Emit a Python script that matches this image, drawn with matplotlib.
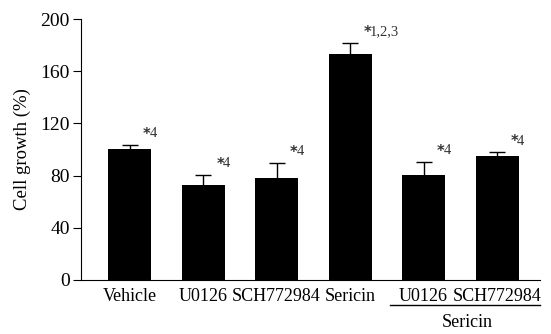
import numpy as np
import matplotlib.pyplot as plt
import matplotlib as mpl

mpl.rcParams.update({
    'font.family': ['Liberation Serif', 'DejaVu Serif'],
    'font.size': 13,
})

labels = ['Vehicle', 'U0126', 'SCH772984', 'Sericin', 'U0126', 'SCH772984']
growth = [100.3, 73.0, 78.2, 173.0, 80.3, 95.4]
sem = [3.4, 7.8, 11.4, 8.5, 10.5, 2.4]
marks = ['4', '4', '4', '1,2,3', '4', '4']

fig = plt.figure(figsize=(5.51, 3.34), dpi=100)
ax = fig.add_axes([81/551, 1 - 280/334, (540-81)/551, (280-19)/334])

x = np.arange(len(labels))
ax.bar(x, growth, width=0.585, color='black', yerr=sem,
       error_kw=dict(ecolor='black', elinewidth=1, capsize=6, capthick=1))

# significance marks: small bold asterisk followed by group numbers
for xi, g, e, m in zip(x, growth, sem, marks):
    ax.annotate('*', (xi + 0.18, g + e + 8), fontsize=10.5, fontweight='bold',
                ha='left', va='center', family='DejaVu Sans', color='#333333')
    ax.annotate(m, (xi + 0.18, g + e + 8.5), xytext=(5, 0),
                textcoords='offset points', fontsize=10.5, ha='left',
                va='center', color='#333333')

ax.set_xlim(-0.66, 5.585)
ax.set_ylim(0, 200)
ax.set_yticks([0, 40, 80, 120, 160, 200])
ax.set_xticks(x)
ax.set_xticklabels(labels)
ax.tick_params(axis='x', length=0, pad=6)
ax.tick_params(axis='y', length=6, direction='out', labelsize=14, pad=2)
ax.spines['top'].set_visible(False)
ax.spines['right'].set_visible(False)
ax.set_ylabel('Cell growth (%)', fontsize=13.5, labelpad=7)

# group line under the sericin combination labels
ax.plot([3.54, 5.585], [-19.2, -19.2], color='black', lw=1, clip_on=False)
ax.text(4.6, -26, 'Sericin', ha='center', va='top')

fig.savefig('out.png', dpi=100)
